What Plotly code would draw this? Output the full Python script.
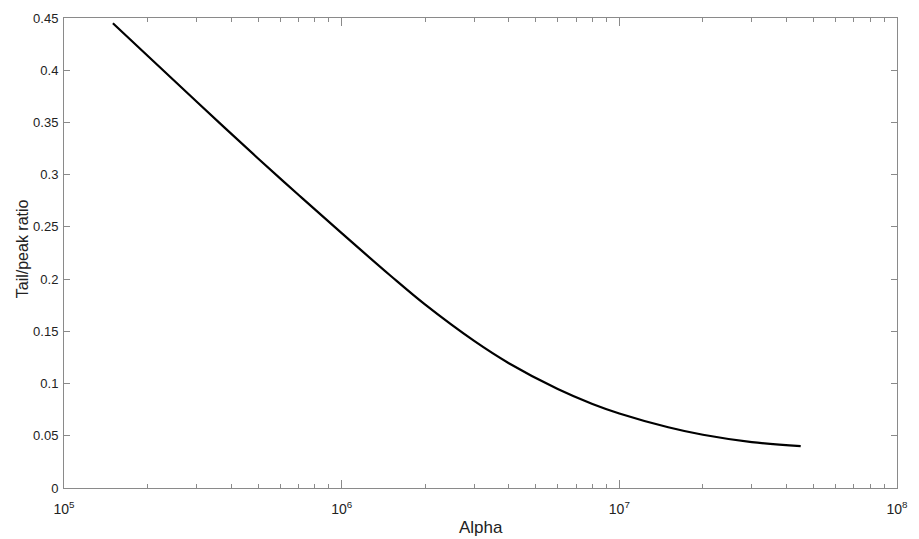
import plotly.graph_objects as go

# Tail/peak ratio as a function of alpha (log-spaced samples)
alpha = [1.5e5, 2e5, 3e5, 5e5, 7e5, 1e6, 1.5e6, 2e6, 3e6, 4e6,
         6e6, 8e6, 1e7, 1.5e7, 2e7, 3e7, 4.5e7]
tail_peak = [0.445, 0.4138, 0.3700, 0.3155, 0.2805, 0.2440, 0.2032, 0.1755,
             0.1408, 0.1195, 0.0948, 0.0805, 0.0714, 0.0582, 0.0510, 0.0440, 0.0401]

x_tick_vals = [1e5, 1e6, 1e7, 1e8]
x_tick_text = ["10<sup>5</sup>", "10<sup>6</sup>", "10<sup>7</sup>", "10<sup>8</sup>"]

axis_color = "#8a8a8a"
text_color = "#222222"
font_family = "Liberation Sans, Arial, sans-serif"

fig = go.Figure()
fig.add_trace(go.Scatter(
    x=alpha, y=tail_peak, mode="lines",
    line=dict(color="black", width=2.2, shape="spline", smoothing=1.0),
    showlegend=False, hoverinfo="skip",
))

fig.update_layout(
    width=919, height=539,
    margin=dict(l=64, r=11, t=13, b=51),
    paper_bgcolor="white", plot_bgcolor="white",
    font=dict(family=font_family, size=13, color=text_color),
    xaxis=dict(
        type="log", range=[5, 8],
        tickvals=x_tick_vals, ticktext=x_tick_text,
        ticks="inside", ticklen=8, tickwidth=1, tickcolor=axis_color,
        minor=dict(ticks="inside", ticklen=4, tickwidth=1, tickcolor=axis_color,
                   dtick="D1", showgrid=False),
        showline=True, linecolor=axis_color, linewidth=1, mirror="ticks",
        showgrid=False, zeroline=False,
        tickfont=dict(size=14, color=text_color),
        ticklabelstandoff=8,
    ),
    yaxis=dict(
        range=[0, 0.45], dtick=0.05, tick0=0,
        ticks="inside", ticklen=6, tickwidth=1, tickcolor=axis_color,
        showline=True, linecolor=axis_color, linewidth=1, mirror="ticks",
        showgrid=False, zeroline=False,
        tickfont=dict(size=13, color=text_color),
        ticklabelstandoff=2,
    ),
    annotations=[
        dict(text="Alpha", xref="paper", yref="paper", x=0.5, y=-0.083,
             xanchor="center", yanchor="middle", showarrow=False,
             font=dict(size=17, color=text_color, family=font_family)),
        dict(text="Tail/peak ratio", xref="paper", yref="paper", x=-0.0505, y=0.51,
             xanchor="center", yanchor="middle", textangle=-90, showarrow=False,
             font=dict(size=16, color=text_color, family=font_family)),
    ],
)

fig.write_html("out.html")
